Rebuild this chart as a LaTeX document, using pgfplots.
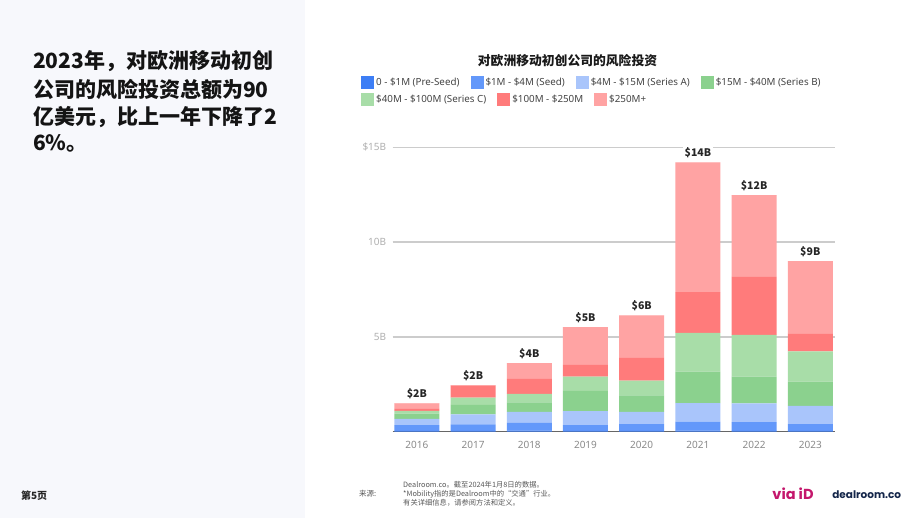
\documentclass[border=0pt]{standalone}
\usepackage{pgfplots}
\usepackage{pgfplotstable}
\pgfplotsset{compat=1.18}
\usepackage{fontspec}
\setmainfont{Noto Sans}
\newfontfamily\cjk{Noto Sans CJK SC}
\newfontfamily\pop{Poppins}
\definecolor{panel}{HTML}{F7F8FC}
\definecolor{cPre}{HTML}{3D7EF5}
\definecolor{cSeed}{HTML}{6398FA}
\definecolor{cA}{HTML}{A9C5FB}
\definecolor{cB}{HTML}{8BD18E}
\definecolor{cC}{HTML}{A8DDA8}
\definecolor{cR}{HTML}{FF7B7B}
\definecolor{cP}{HTML}{FFA3A3}
\definecolor{tickgray}{HTML}{B0B0B0}
\definecolor{xgray}{HTML}{8A8A8A}
\definecolor{gridc}{HTML}{CCCCCC}
\definecolor{legtxt}{HTML}{444444}
\definecolor{viaid}{HTML}{C4176C}
\definecolor{navy}{HTML}{14264A}

\pgfplotstableread{
x pre seed A B C R P z lab
0 0.04 0.31 0.32 0.28 0.15 0.10 0.30 0.001 \$2B
1 0.04 0.35 0.53 0.49 0.39 0.63 0.02 0.001 \$2B
2 0.05 0.41 0.58 0.51 0.44 0.79 0.83 0.001 \$4B
3 0.04 0.31 0.74 1.06 0.75 0.62 1.99 0.001 \$5B
4 0.04 0.36 0.64 0.88 0.77 1.20 2.25 0.001 \$6B
5 0.05 0.48 0.98 1.66 2.04 2.15 6.85 0.001 \$14B
6 0.04 0.47 0.99 1.40 2.21 3.06 4.31 0.001 \$12B
7 0.04 0.36 0.96 1.28 1.60 0.95 3.81 0.001 \$9B
}\data

\begin{document}
\begin{tikzpicture}[x=1pt,y=1pt]
\path[use as bounding box] (0,0) rectangle (920,518);
\fill[white] (0,0) rectangle (920,518);
\fill[panel] (0,0) rectangle (305,518);
\coordinate (O) at (0,0);
\coordinate (AX) at (392.7,86.3);

% left headline
\begin{scope}[every node/.style={anchor=west, inner sep=0pt, font=\cjk\bfseries\fontsize{21}{25}\selectfont, text=black!92}]
\node at (33,518-61) {2023年，对欧洲移动初创};
\node at (33,518-89) {公司的风险投资总额为90};
\node at (33,518-117) {亿美元，比上一年下降了2};
\node at (33,518-143) {6\%。};
\end{scope}

% chart title
\node[font=\cjk\bfseries\fontsize{12.8}{15}\selectfont, text=black!90] at (567.5,518-61) {对欧洲移动初创公司的风险投资};

\begin{axis}[
  at={(AX)}, anchor=south west,
  scale only axis, width=442.3pt, height=284.4pt,
  ybar stacked, bar width=45pt,
  xmin=-0.43, xmax=7.44, ymin=0, ymax=15,
  enlargelimits=false, clip=false,
  xtick={0,...,7}, xticklabels={2016,2017,2018,2019,2020,2021,2022,2023},
  ytick={5,10,15}, yticklabels={5B,10B,\$15B},
  axis x line*=bottom, axis y line*=left,
  x axis line style={draw=black!60, line width=1.3pt, -},
  y axis line style={draw=none},
  major tick length=0pt,
  ymajorgrids, grid style={draw=gridc, line width=1.4pt},
  yticklabel style={font=\fontsize{10}{12}\selectfont, text=tickgray, xshift=-3pt},
  xticklabel style={font=\fontsize{10}{12}\selectfont, text=xgray, yshift=-6pt},
]
\addplot[fill=cPre, draw=none] table[x=x,y=pre]{\data};
\addplot[fill=cSeed, draw=none] table[x=x,y=seed]{\data};
\addplot[fill=cA, draw=none] table[x=x,y=A]{\data};
\addplot[fill=cB, draw=none] table[x=x,y=B]{\data};
\addplot[fill=cC, draw=none] table[x=x,y=C]{\data};
\addplot[fill=cR, draw=none] table[x=x,y=R]{\data};
\addplot[fill=cP, draw=none] table[x=x,y=P]{\data};
\addplot[fill=cP, draw=none,
  point meta=explicit symbolic,
  nodes near coords={\pgfplotspointmeta},
  nodes near coords style={anchor=south, font=\cjk\bfseries\fontsize{10.5}{12}\selectfont, text=black!85, fill=white, inner sep=2pt, yshift=2.5pt}]
  table[x=x,y=z,meta=lab]{\data};
\end{axis}

% legend row 1
\begin{axis}[
  at={(O)}, anchor=south west, scale only axis, width=920pt, height=518pt,
  hide axis, xmin=0, xmax=1, ymin=0, ymax=1,
  legend columns=-1,
  legend style={at={(361/920,{(518-83)/518})}, anchor=west, draw=none, fill=none,
    inner sep=0pt, font=\fontsize{9.8}{11}\selectfont, text=legtxt,
    /tikz/every even column/.append style={column sep=9pt}},
  legend image code/.code={\fill[#1, draw=none] (0pt,-6.5pt) rectangle (13pt,6.5pt);},
]
\addlegendimage{fill=cPre, draw=none}\addlegendentry{0 - \$1M (Pre-Seed)}
\addlegendimage{fill=cSeed, draw=none}\addlegendentry{\$1M - \$4M (Seed)}
\addlegendimage{fill=cA, draw=none}\addlegendentry{\$4M - \$15M (Series A)}
\addlegendimage{fill=cB, draw=none}\addlegendentry{\$15M - \$40M (Series B)}
\end{axis}

% legend row 2
\begin{axis}[
  at={(O)}, anchor=south west, scale only axis, width=920pt, height=518pt,
  hide axis, xmin=0, xmax=1, ymin=0, ymax=1,
  legend columns=-1,
  legend style={at={(361/920,{(518-100)/518})}, anchor=west, draw=none, fill=none,
    inner sep=0pt, font=\fontsize{9.8}{11}\selectfont, text=legtxt,
    /tikz/every even column/.append style={column sep=9pt}},
  legend image code/.code={\fill[#1, draw=none] (0pt,-6.5pt) rectangle (13pt,6.5pt);},
]
\addlegendimage{fill=cC, draw=none}\addlegendentry{\$40M - \$100M (Series C)}
\addlegendimage{fill=cR, draw=none}\addlegendentry{\$100M - \$250M}
\addlegendimage{fill=cP, draw=none}\addlegendentry{\$250M+}
\end{axis}

% footer
\node[font=\cjk\bfseries\fontsize{10}{12}\selectfont, text=black!85] at (34.2,518-496) {第5页};
\node[font=\cjk\fontsize{7.5}{9}\selectfont, text=black!65, anchor=west, inner sep=0pt] at (359,518-494) {来源:};
\begin{scope}[every node/.style={font=\cjk\fontsize{7.3}{9}\selectfont, text=black!65, anchor=west, inner sep=0pt}]
\node at (403,518-485) {Dealroom.co。截至2024年1月8日的数据。};
\node at (403,518-494) {*Mobility指的是Dealroom中的“交通”行业。};
\node at (403,518-503) {有关详细信息，请参阅方法和定义。};
\end{scope}
\node[font=\pop\bfseries\fontsize{14.5}{17}\selectfont, text=viaid] at (793,518-494) {via iD};
\node[font=\pop\bfseries\fontsize{10.5}{12}\selectfont, text=navy] at (866.7,518-494.7) {dealroom.co};
\end{tikzpicture}
\end{document}
